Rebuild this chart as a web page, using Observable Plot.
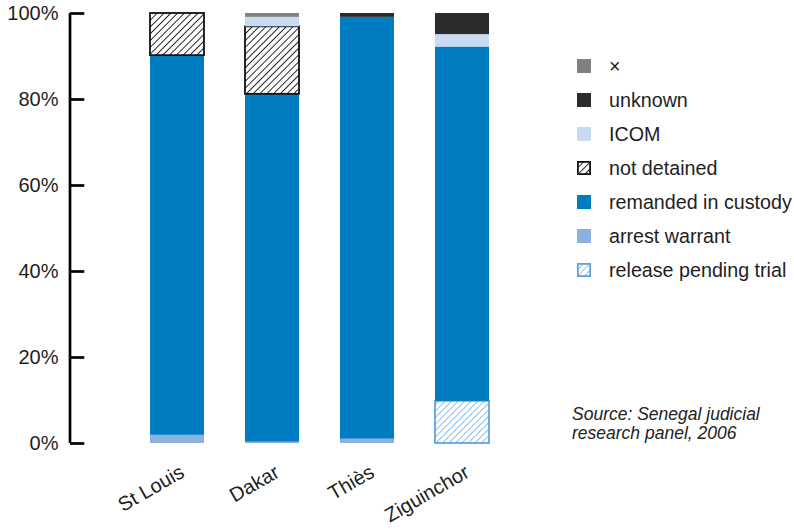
<!DOCTYPE html>
<html>
<head>
<meta charset="utf-8">
<script src="https://cdn.jsdelivr.net/npm/d3@7"></script>
<script src="https://cdn.jsdelivr.net/npm/@observablehq/plot@0.6"></script>
<style>
  html, body { margin: 0; padding: 0; background: #fff; }
  #wrap { position: relative; width: 794px; height: 531px; overflow: hidden; }
  .legend-row { position: absolute; left: 577px; height: 34px; display: flex; align-items: center;
    font-family: "Liberation Sans", Arial, sans-serif; font-size: 19.7px;
    color: #1e1e1e; white-space: nowrap; }
  .legend-row .sw { width: 14px; height: 14px; margin-right: 18px; flex: none; }
  #source { position: absolute; left: 572px; top: 405px; font-family: "Liberation Sans", Arial, sans-serif;
    font-style: italic; font-size: 17.5px; line-height: 19px; color: #222; }
</style>
</head>
<body>
<div id="wrap"></div>
<script>
// ---- data ----
const cities = ["St Louis", "Dakar", "Thiès", "Ziguinchor"];
const categories = ["release pending trial", "arrest warrant", "remanded in custody", "not detained", "ICOM", "unknown", "×"];
const releasePendingTrial = [0, 0, 0, 9.8];
const arrestWarrant = [1.9, 0.3, 1.0, 0];
const remandedInCustody = [88.3, 80.9, 98.1, 82.4];
const notDetained = [9.8, 15.7, 0, 0];
const icom = [0, 2.2, 0, 2.9];
const unknown = [0, 0, 0.9, 4.9];
const times = [0, 0.9, 0, 0];
const yTicks = [0, 20, 40, 60, 80, 100];

const series = [releasePendingTrial, arrestWarrant, remandedInCustody, notDetained, icom, unknown, times];
const data = [];
cities.forEach((city, i) => {
  categories.forEach((category, j) => {
    const v = series[j][i];
    if (v > 0) data.push({city, category, value: v});
  });
});

const fills = ["url(#hatchBlue)", "#8cb1e0", "#007cc3", "url(#hatchBlack)", "#c9daf1", "#2b2b2b", "#808080"];
const strokes = {"not detained": "#111111", "release pending trial": "#5ea3e2"};

// ---- pattern defs ----
const NS = "http://www.w3.org/2000/svg";
const defsSvg = document.createElementNS(NS, "svg");
defsSvg.setAttribute("width", "0");
defsSvg.setAttribute("height", "0");
defsSvg.style.position = "absolute";
defsSvg.innerHTML = `
<defs>
  <pattern id="hatchBlack" patternUnits="userSpaceOnUse" width="4.8" height="4.8" patternTransform="rotate(45)">
    <rect width="4.8" height="4.8" fill="#fff"/>
    <line x1="0" y1="0" x2="0" y2="4.8" stroke="#111" stroke-width="1.8"/>
  </pattern>
  <pattern id="hatchBlue" patternUnits="userSpaceOnUse" width="4.6" height="4.6" patternTransform="rotate(45)">
    <rect width="4.6" height="4.6" fill="#fff"/>
    <line x1="0" y1="0" x2="0" y2="4.6" stroke="#5ea6e6" stroke-width="1.4"/>
  </pattern>
</defs>`;
document.getElementById("wrap").appendChild(defsSvg);

const W = 794, ML = 70, MR = 0;
const frameW = W - ML - MR;
const font = '"Liberation Sans", Arial, sans-serif';

const chart = Plot.plot({
  width: W,
  height: 531,
  marginLeft: ML,
  marginRight: MR,
  marginTop: 13,
  marginBottom: 88,
  style: {fontFamily: font, fontSize: "20px", color: "#1e1e1e", background: "transparent", overflow: "visible"},
  x: {domain: cities, range: [150, 489], paddingInner: 0.4316, paddingOuter: 0, axis: null},
  y: {domain: [0, 100], axis: null},
  color: {domain: categories, range: fills},
  marks: [
    Plot.barY(data, {
      x: "city", y: "value", fill: "category", order: categories,
      stroke: d => strokes[d.category] || "none", strokeWidth: 1.8
    }),
    Plot.barY([0], {y1: 0, y2: 100, fill: "#000", insetLeft: -1.35, insetRight: frameW - 1.35}),
    Plot.ruleY(yTicks, {stroke: "#000", strokeWidth: 2.7, insetRight: frameW - 14.3}),
    Plot.axisY({ticks: yTicks, tickFormat: d => d + "%", tickSize: 0, tickPadding: 12, fontSize: 20, fill: "#1e1e1e", label: null}),
    Plot.text(cities, {x: d => d, frameAnchor: "bottom", rotate: -30, textAnchor: "end", lineAnchor: "middle",
      dx: 5, dy: 27, fontSize: 20, fill: "#1e1e1e"})
  ]
});
document.getElementById("wrap").appendChild(chart);

// ---- legend ----
const legendOrder = categories.slice().reverse();
const wrap = document.getElementById("wrap");
legendOrder.forEach((cat, k) => {
  const row = document.createElement("div");
  row.className = "legend-row";
  row.style.top = (66 + 34 * k - 17) + "px";
  const idx = categories.indexOf(cat);
  const sw = document.createElementNS(NS, "svg");
  sw.setAttribute("class", "sw");
  sw.setAttribute("viewBox", "0 0 14 14");
  const r = document.createElementNS(NS, "rect");
  const stroke = strokes[cat];
  if (stroke) {
    r.setAttribute("x", "0.9"); r.setAttribute("y", "0.9");
    r.setAttribute("width", "12.2"); r.setAttribute("height", "12.2");
    r.setAttribute("stroke", stroke); r.setAttribute("stroke-width", "1.8");
  } else {
    r.setAttribute("width", "14"); r.setAttribute("height", "14");
  }
  r.setAttribute("fill", fills[idx]);
  sw.appendChild(r);
  row.appendChild(sw);
  const t = document.createElement("span");
  t.textContent = cat;
  row.appendChild(t);
  wrap.appendChild(row);
});

const src = document.createElement("div");
src.id = "source";
src.innerHTML = "Source: Senegal judicial<br>research panel, 2006";
wrap.appendChild(src);
</script>
</body>
</html>
